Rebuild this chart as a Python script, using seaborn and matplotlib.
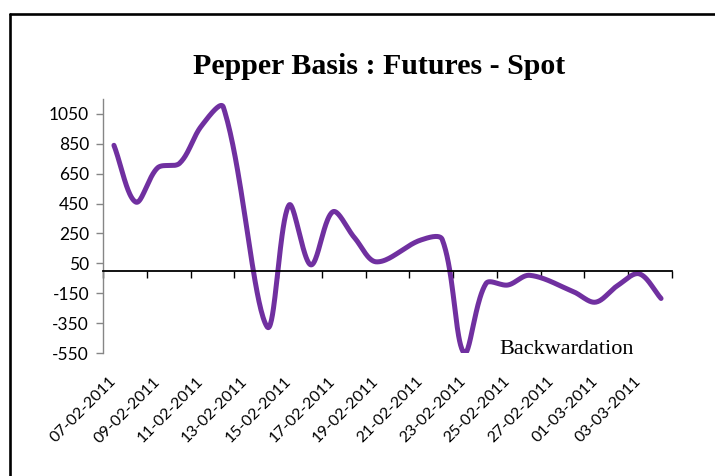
import numpy as np
import pandas as pd
import matplotlib
matplotlib.use("Agg")
import matplotlib.pyplot as plt
from matplotlib.lines import Line2D
import seaborn as sns

# ---- data ----
dates = ["07-02-2011", "08-02-2011", "09-02-2011", "10-02-2011", "11-02-2011", "12-02-2011",
         "14-02-2011", "15-02-2011", "16-02-2011", "17-02-2011", "18-02-2011", "19-02-2011",
         "21-02-2011", "22-02-2011", "23-02-2011", "24-02-2011", "25-02-2011", "26-02-2011",
         "28-02-2011", "01-03-2011", "02-03-2011", "03-03-2011", "04-03-2011"]
basis = [840, 460, 690, 720, 970, 1095,
         -375, 440, 40, 395, 220, 60,
         205, 210, -550, -85, -95, -30,
         -140, -210, -100, -20, -185]
xtick_labels = ["07-02-2011", "09-02-2011", "11-02-2011", "13-02-2011", "15-02-2011",
                "17-02-2011", "19-02-2011", "21-02-2011", "23-02-2011", "25-02-2011",
                "27-02-2011", "01-03-2011", "03-03-2011"]
ytick_values = [-550, -350, -150, 50, 250, 450, 650, 850, 1050]
title = "Pepper Basis : Futures - Spot"
note = "Backwardation"

sns.set_theme(style="white")
plt.rcParams["font.family"] = ["Lato", "DejaVu Sans"]

d = pd.to_datetime(pd.Series(dates), format="%d-%m-%Y")
start = d.iloc[0]
xday = (d - start).dt.days.to_numpy(dtype=float)
yval = np.asarray(basis, dtype=float)
lab_day = ((pd.to_datetime(pd.Series(xtick_labels), format="%d-%m-%Y") - start).dt.days).to_numpy(dtype=float)

W, H = 715, 476
XMIN, XMAX, YMIN, YMAX = -0.5, 25.5, -550, 1150
AX_W, AX_H = 569, 254
SX = AX_W / (XMAX - XMIN)   # px per day
SY = AX_H / (YMAX - YMIN)   # px per unit


def smooth(x, y, n=40):
    """Excel-like smoothed line: cubic Bezier segments through the points,
    tangents weighted by on-screen segment lengths."""
    P = np.column_stack([x, y])
    S = P * np.array([SX, SY])
    m = len(P)
    out = []

    def dist(a, b):
        return float(np.hypot(*(S[b] - S[a])))

    for i in range(m - 1):
        i0 = i - 1 if i > 0 else i
        i3 = i + 2 if i + 2 < m else i + 1
        p1, p2 = P[i], P[i + 1]
        d01, d12, d23 = dist(i0, i), dist(i, i + 1), dist(i + 1, i3)
        f1 = d12 / (d01 + d12) / 3.0 if d01 + d12 > 0 else 0
        f2 = d12 / (d12 + d23) / 3.0 if d12 + d23 > 0 else 0
        c1 = p1 + (P[i + 1] - P[i0]) * f1
        c2 = p2 - (P[i3] - P[i]) * f2
        t = np.linspace(0, 1, n, endpoint=(i == m - 2))[:, None]
        seg = (1 - t) ** 3 * p1 + 3 * (1 - t) ** 2 * t * c1 + 3 * (1 - t) * t ** 2 * c2 + t ** 3 * p2
        out.append(seg)
    return np.vstack(out)


curve = smooth(xday, yval)
df = pd.DataFrame({"day": curve[:, 0], "value": curve[:, 1]})

fig = plt.figure(figsize=(W / 100, H / 100), dpi=100)
fig.patch.set_facecolor("white")
ax = fig.add_axes([103 / W, 123 / H, AX_W / W, AX_H / H])
ax.set_facecolor("white")

sns.lineplot(data=df, x="day", y="value", sort=False, estimator=None, color="#7030A0",
             linewidth=3.6, ax=ax, solid_capstyle="round", solid_joinstyle="round")

ax.set_xlim(XMIN, XMAX)
ax.set_ylim(YMIN, YMAX)
ax.set_xlabel("")
ax.set_ylabel("")
ax.grid(False)

# y axis
ax.set_yticks(ytick_values)
ax.set_yticklabels([str(v) for v in ytick_values], fontsize=12.5, color="black")
ax.spines["left"].set_color("#868686")
ax.spines["left"].set_linewidth(1.0)
ax.tick_params(axis="y", direction="out", length=5, width=1, color="#868686", pad=5, left=True)

# x axis line at zero with tick marks between day groups
ax.spines["bottom"].set_position(("data", 0))
ax.spines["bottom"].set_color("black")
ax.spines["bottom"].set_linewidth(1.3)
ax.spines["top"].set_visible(False)
ax.spines["right"].set_visible(False)
ax.set_xticks(np.arange(-0.5, 25.6, 2.0))
ax.tick_params(axis="x", direction="out", length=5, width=1, color="black", labelbottom=False, bottom=True)

# date labels at the bottom of the plot area
sec = ax.secondary_xaxis(0)
sec.set_xticks(lab_day)
sec.set_xticklabels(xtick_labels, rotation=45, ha="right", va="center", rotation_mode="anchor",
                    fontsize=11.5, color="black")
sec.tick_params(axis="x", length=0, pad=19)
sec.spines["bottom"].set_visible(False)

# texts
fig.text(379 / W, 1 - 66 / H, title, ha="center", va="center", fontsize=21.5, fontweight="bold",
         family=["Liberation Serif", "DejaVu Serif"], color="black")
ax.text(17.6, -528, note, ha="left", va="center", fontsize=16,
        family=["Liberation Serif", "DejaVu Serif"], color="black")

# chart border (left and top)
fig.add_artist(Line2D([10 / W, 10 / W], [0, 1 - 14 / H], transform=fig.transFigure, color="black", linewidth=1.9))
fig.add_artist(Line2D([10 / W, 1.0], [1 - 14 / H, 1 - 14 / H], transform=fig.transFigure, color="black", linewidth=1.9))

fig.savefig("out.png", dpi=100, facecolor="white")
